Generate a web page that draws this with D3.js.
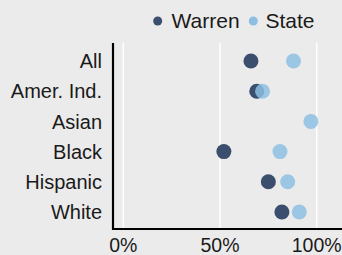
<!DOCTYPE html>
<html><head><meta charset="utf-8">
<script src="https://cdn.jsdelivr.net/npm/d3@7"></script>
<style>body{margin:0;background:#ebebeb;}svg{display:block;font-family:"Liberation Sans",Arial,sans-serif;}</style>
</head><body><svg id="c" width="342" height="255"></svg>
<script>
const categories = ["All","Amer. Ind.","Asian","Black","Hispanic","White"];
const warren = [66, 69, null, 52, 75, 82];
const state = [88, 72, 97, 81, 85, 91];
const ticks = [0, 50, 100];
const seriesNames = ["Warren","State"];
const colors = {Warren:"#3b4e6d", State:"#8dbfe3"};

(function(){
const svg = d3.select("#c");
svg.append("rect").attr("width",342).attr("height",255).attr("fill","#ebebeb");
const x = d3.scaleLinear().domain([0,100]).range([123.3,316.7]);
const y = d3.scalePoint().domain(categories).range([61,212]);
const pTop = 43, pBottom = 229, pLeft = 113;

svg.append("g").selectAll("line").data(ticks).join("line")
  .attr("x1",d=>x(d)).attr("x2",d=>x(d)).attr("y1",pTop).attr("y2",pBottom)
  .attr("stroke","#fff").attr("stroke-width",1.5);

const r = 7.5;
svg.append("g").selectAll("circle").data(categories.map((c,i)=>({c,v:warren[i]})).filter(d=>d.v!=null))
  .join("circle").attr("cx",d=>x(d.v)).attr("cy",d=>y(d.c)).attr("r",r).attr("fill",colors.Warren);
svg.append("g").selectAll("circle").data(categories.map((c,i)=>({c,v:state[i]})).filter(d=>d.v!=null))
  .join("circle").attr("cx",d=>x(d.v)).attr("cy",d=>y(d.c)).attr("r",r).attr("fill",colors.State).attr("fill-opacity",0.85);

svg.append("line").attr("x1",pLeft).attr("x2",pLeft).attr("y1",pTop).attr("y2",pBottom+1).attr("stroke","#000").attr("stroke-width",2.2);
svg.append("line").attr("x1",pLeft-1).attr("x2",342).attr("y1",pBottom).attr("y2",pBottom).attr("stroke","#000").attr("stroke-width",2);

svg.append("g").selectAll("text").data(categories).join("text")
  .attr("x",102).attr("y",d=>y(d)).attr("dy","0.36em").attr("text-anchor","end")
  .attr("font-size",20).attr("fill","#1a1a1a").text(d=>d);

svg.append("g").selectAll("text").data(ticks).join("text")
  .attr("x",d=>x(d)).attr("y",252).attr("text-anchor","middle")
  .attr("font-size",19.5).attr("fill","#1a1a1a").text(d=>d+"%");

const lg = svg.append("g");
lg.append("circle").attr("cx",157.7).attr("cy",21).attr("r",4.5).attr("fill",colors.Warren);
lg.append("text").attr("x",171.5).attr("y",28).attr("font-size",21).attr("fill","#1a1a1a").text(seriesNames[0]);
lg.append("circle").attr("cx",253.3).attr("cy",21).attr("r",4.5).attr("fill",colors.State);
lg.append("text").attr("x",265.5).attr("y",28).attr("font-size",21).attr("fill","#1a1a1a").text(seriesNames[1]);
})();
</script></body></html>
